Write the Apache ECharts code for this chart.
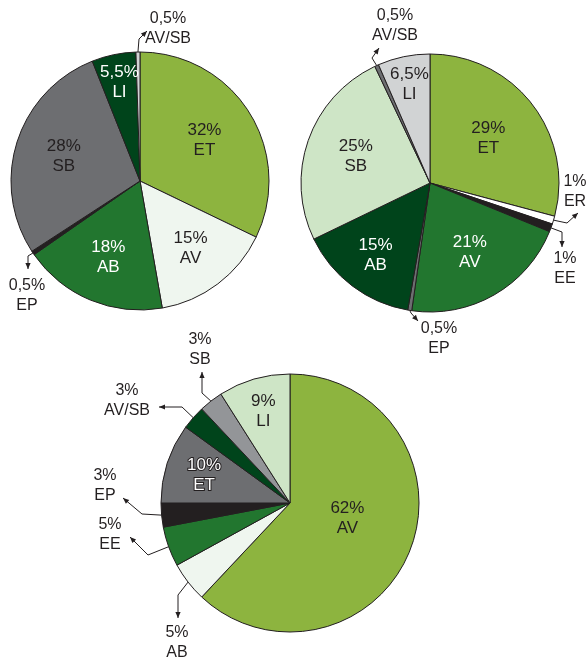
<!DOCTYPE html>
<html>
<head>
<meta charset="utf-8">
<script src="https://cdn.jsdelivr.net/npm/echarts@6/dist/echarts.min.js"></script>
<style>
html,body{margin:0;padding:0;background:#fff;}
#chart{width:587px;height:659px;}
</style>
</head>
<body>
<div id="chart"></div>
<script>
// ---------- DATA ----------
const pie1Names = ['ET', 'AV', 'AB', 'EP', 'SB', 'LI', 'AV/SB'];
const pie1Values = [32, 15, 18, 0.5, 28, 5.5, 0.5];
const pie1Pcts = ['32%', '15%', '18%', '0,5%', '28%', '5,5%', '0,5%'];

const pie2Names = ['ET', 'ER', 'EE', 'AV', 'EP', 'AB', 'SB', 'AV/SB', 'LI'];
const pie2Values = [29, 1, 1, 21, 0.5, 15, 25, 0.5, 6.5];
const pie2Pcts = ['29%', '1%', '1%', '21%', '0,5%', '15%', '25%', '0,5%', '6,5%'];

const pie3Names = ['AV', 'AB', 'EE', 'EP', 'ET', 'AV/SB', 'SB', 'LI'];
const pie3Values = [62, 5, 5, 3, 10, 3, 3, 9];
const pie3Pcts = ['62%', '5%', '5%', '3%', '10%', '3%', '3%', '9%'];

// ---------- STYLES ----------
const OLIVE = '#8db43f', PALE = '#eff6ef', GREEN = '#22762f', BLACK = '#231f20',
      GRAY = '#6d6e71', DKGREEN = '#00441b', LTGRAY = '#d1d3d4', LTGREEN = '#cee5c6',
      MIDGRAY = '#939598', WHITE = '#ffffff';
const pie1Colors = [OLIVE, PALE, GREEN, BLACK, GRAY, DKGREEN, LTGRAY];
const pie2Colors = [OLIVE, WHITE, BLACK, GREEN, GRAY, DKGREEN, LTGREEN, GRAY, LTGRAY];
const pie3Colors = [OLIVE, PALE, GREEN, BLACK, GRAY, DKGREEN, MIDGRAY, LTGREEN];
const pie1TextWhite = [false, false, true, false, false, true, false];
const pie2TextWhite = [false, false, false, true, false, true, false, false, false];
const pie3TextWhite = [false, false, false, false, true, false, false, false];

// label layout: inner -> {f: radial factor, da: angle tweak}; outer -> {at, bend, end}
const pie1Layout = [
  {f: 0.59}, {f: 0.65}, {f: 0.64},
  {at: [27, 296], bend: [28, 256], end: [28, 269]},
  {f: 0.62}, {f: 0.78},
  {at: [168, 29], bend: [139, 39], end: [147, 31]}
];
const pie2Layout = [
  {f: 0.57},
  {at: [575, 192], bend: [567, 223], end: [578, 213]},
  {at: [565, 269], bend: [562, 232], end: [562, 247]},
  {f: 0.62},
  {at: [439, 339], bend: [411, 313], end: [418, 321]},
  {f: 0.7}, {f: 0.61},
  {at: [395, 26], bend: [372, 58], end: [379, 48]},
  {f: 0.78}
];
const pie3Layout = [
  {f: 0.46, da: -7},
  {at: [177, 643], bend: [178, 595], end: [178, 618]},
  {at: [110, 535], bend: [148, 555], end: [130, 537]},
  {at: [105, 486], bend: [142, 514], end: [123, 498]},
  {f: 0.7},
  {at: [127, 401], bend: [182, 407], end: [159, 407]},
  {at: [200, 350], bend: [202, 393], end: [202, 372]},
  {f: 0.74}
];

const pies = [
  {names: pie1Names, values: pie1Values, pcts: pie1Pcts, colors: pie1Colors, white: pie1TextWhite, layout: pie1Layout, center: [140, 181], r: 129},
  {names: pie2Names, values: pie2Values, pcts: pie2Pcts, colors: pie2Colors, white: pie2TextWhite, layout: pie2Layout, center: [430, 183], r: 129},
  {names: pie3Names, values: pie3Values, pcts: pie3Pcts, colors: pie3Colors, white: pie3TextWhite, layout: pie3Layout, center: [290, 503], r: 129}
];

function midAngle(values, i) {
  const total = values.reduce((a, b) => a + b, 0);
  let cum = 0;
  for (let k = 0; k < i; k++) cum += values[k];
  return 2 * Math.PI * (cum + values[i] / 2) / total;
}

const FONT = '"Liberation Sans", Arial, sans-serif';
const series = [];
const graphics = [];

pies.forEach((p, si) => {
  series.push({
    type: 'pie',
    center: p.center,
    radius: p.r,
    startAngle: 90,
    clockwise: true,
    avoidLabelOverlap: false,
    silent: true,
    animation: false,
    itemStyle: {borderColor: BLACK, borderWidth: 1},
    labelLine: {show: false},
    label: {
      show: true,
      position: 'inside',
      fontFamily: FONT,
      fontSize: 17,
      lineHeight: 20,
      color: BLACK,
      formatter: (q) => p.pcts[q.dataIndex] + '\n' + q.name
    },
    labelLayout: (params) => {
      const i = params.dataIndex;
      const L = p.layout[i];
      if (L.at) {
        return {x: L.at[0], y: L.at[1], align: 'center', verticalAlign: 'middle'};
      }
      const th = midAngle(p.values, i) + (L.da || 0) * Math.PI / 180;
      return {
        x: p.center[0] + L.f * p.r * Math.sin(th),
        y: p.center[1] - L.f * p.r * Math.cos(th),
        align: 'center', verticalAlign: 'middle'
      };
    },
    data: p.names.map((n, i) => {
      const L = p.layout[i];
      const d = {name: n, value: p.values[i], itemStyle: {color: p.colors[i]}, label: {}};
      if (L.at) d.label.fontSize = 16;
      if (p.white[i]) {
        d.label.color = '#ffffff';
        if (si === 2) { d.label.textBorderColor = BLACK; d.label.textBorderWidth = 2; }
      }
      return d;
    })
  });

  // leader arrows
  p.layout.forEach((L, i) => {
    if (!L.at) return;
    const th = midAngle(p.values, i);
    const start = [p.center[0] + p.r * Math.sin(th), p.center[1] - p.r * Math.cos(th)];
    graphics.push({
      type: 'polyline', silent: true, z: 10,
      shape: {points: [start, L.bend, L.end]},
      style: {stroke: BLACK, lineWidth: 1, fill: null}
    });
    const dx = L.end[0] - L.bend[0], dy = L.end[1] - L.bend[1];
    const len = Math.hypot(dx, dy) || 1;
    const ux = dx / len, uy = dy / len;
    const hl = 6, hw = 2.6;
    const bx = L.end[0] - ux * hl, by = L.end[1] - uy * hl;
    graphics.push({
      type: 'polygon', silent: true, z: 11,
      shape: {points: [L.end, [bx - uy * hw, by + ux * hw], [bx + uy * hw, by - ux * hw]]},
      style: {fill: BLACK}
    });
  });
});

const chart = echarts.init(document.getElementById('chart'), null, {renderer: 'canvas'});
chart.setOption({
  backgroundColor: '#ffffff',
  animation: false,
  series: series,
  graphic: graphics
});
</script>
</body>
</html>
